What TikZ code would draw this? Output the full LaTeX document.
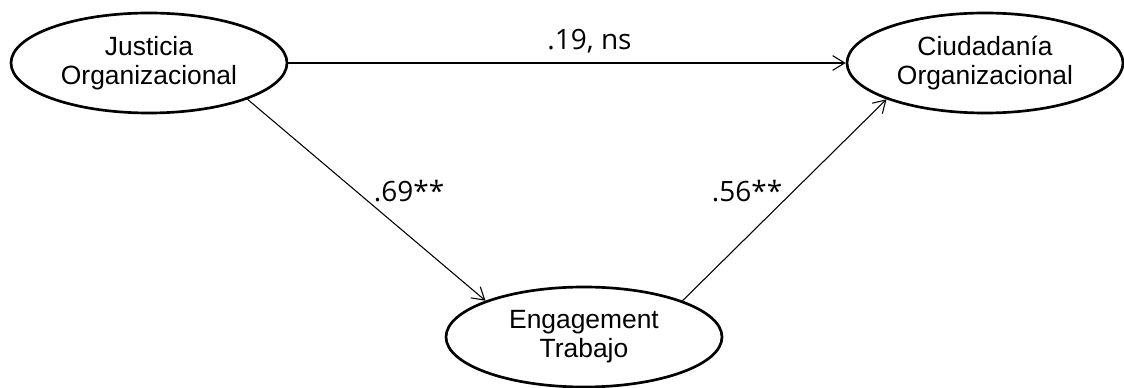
\documentclass[tikz,border=0pt]{standalone}
\usepackage{fontspec}
\setmainfont{Liberation Sans}
\newfontfamily\lblfont{Open Sans}
\usetikzlibrary{arrows.meta,shapes.geometric}
\begin{document}
\begin{tikzpicture}[x=0.75pt,y=-0.75pt,
  var/.style={ellipse,draw,line width=2pt,minimum width=207pt,minimum height=75pt,inner sep=0pt,
    align=center,font=\fontsize{19.8pt}{21.9pt}\selectfont},
  path/.style={line width=0.8pt,-{Straight Barb[length=9pt,width=11pt,line width=0.8pt]}},
  lbl/.style={anchor=base,inner sep=0pt,font=\lblfont\fontsize{21pt}{25pt}\selectfont}]
\useasboundingbox (0,0) rectangle (1124,388);
\node[var] (J) at (149,63) {Justicia\\Organizacional};
\node[var] (C) at (985,63) {Ciudadanía\\Organizacional};
\node[var] (E) at (584,337) {Engagement\\Trabajo};
\draw[path] (J.east) -- (C.west);
\draw[path] (J.south east) -- (E.north west);
\draw[path] (E.north east) -- (C.south west);
\node[lbl] (l1) at (589.5,50) {.19, ns};
\node[lbl] (l2) at (409,202) {.69**};
\node[lbl] (l3) at (747,202) {.56**};
\end{tikzpicture}
\end{document}
